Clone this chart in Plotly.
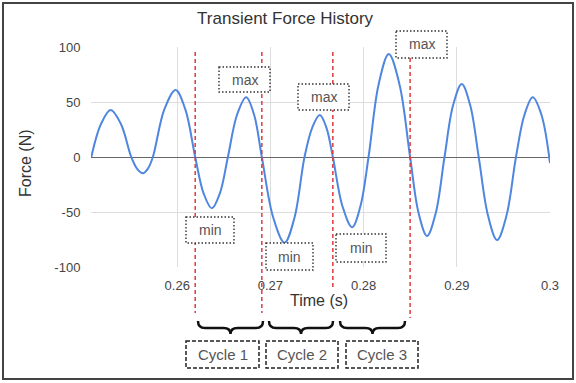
import plotly.graph_objects as go

# ---- data ----
time_s = [0.25078, 0.25182, 0.25286, 0.25396, 0.25507, 0.25568, 0.25632, 0.25686,
          0.25739, 0.25861, 0.25983, 0.26088, 0.26193, 0.26283, 0.26372, 0.26458,
          0.26544, 0.26642, 0.26740, 0.26825, 0.26908, 0.27030, 0.27152, 0.27259,
          0.27366, 0.27450, 0.27530, 0.27600, 0.27670, 0.27774, 0.27877, 0.27965,
          0.28053, 0.28161, 0.28270, 0.28385, 0.28499, 0.28590, 0.28681, 0.28774,
          0.28868, 0.28960, 0.29053, 0.29144, 0.29235, 0.29334, 0.29432, 0.29534,
          0.29635, 0.29726, 0.29815, 0.29908, 0.30000]
force_n = [0, 30, 42.7, 30, 0, -10.5, -14.8, -10.5,
           0, 43, 60.9, 43, 0, -33, -46.7, -33,
           0, 38.4, 54.3, 38.4, 0, -55, -77.9, -55,
           0, 27, 38.2, 27, 0, -45, -63.9, -45,
           0, 66, 93.6, 66, 0, -51, -71.8, -51,
           0, 47, 66.4, 47, 0, -53, -75.5, -53,
           0, 38.4, 54.3, 38.4, -5.5]
cycle_bounds = [0.26193, 0.26908, 0.27670, 0.28499]
cycle_labels = ["Cycle 1", "Cycle 2", "Cycle 3"]
x_tickvals = [0.26, 0.27, 0.28, 0.29, 0.30]
x_ticktext = ["0.26", "0.27", "0.28", "0.29", "0.3"]
y_tickvals = [-100, -50, 0, 50, 100]
y_ticktext = ["-100", "-50", "0", "50", "100"]

W, H = 576, 383
L, R, T, B = 91, 550, 47, 267


def px(x):
    return (x - L) / (R - L)


def py(y):
    return (B - y) / (B - T)


fig = go.Figure()
fig.add_trace(go.Scatter(x=time_s, y=force_n, mode="lines",
                         line=dict(color="#4f86e0", width=2, shape="spline", smoothing=1.0),
                         hoverinfo="skip", showlegend=False))

shapes = []
# outer frame
shapes.append(dict(type="rect", xref="paper", yref="paper", x0=px(3), x1=px(573), y0=py(3), y1=py(379),
                   line=dict(color="#444", width=2), fillcolor="rgba(0,0,0,0)", layer="above"))
# red dashed cycle boundary lines
line_tops = [52, 52, 52, 58]
line_bots = [313, 313, 288, 318]
for t, yt, yb in zip(cycle_bounds, line_tops, line_bots):
    shapes.append(dict(type="line", xref="x", yref="paper", x0=t, x1=t, y0=py(yt), y1=py(yb),
                       line=dict(color="#e03a3a", width=1.5, dash="4px,3px"), layer="above"))

annotations = []


def label_box(x0, y0, x1, y1, text, dash, color, size, width):
    shapes.append(dict(type="rect", xref="paper", yref="paper", x0=px(x0), x1=px(x1), y0=py(y0), y1=py(y1),
                       line=dict(color=color, width=width, dash=dash), fillcolor="white", layer="above"))
    annotations.append(dict(xref="paper", yref="paper", x=px((x0 + x1) / 2), y=py((y0 + y1) / 2),
                            text=text, showarrow=False, xanchor="center", yanchor="middle",
                            font=dict(size=size, color="#555", family="Arial")))


# max / min tags
tag_dash = "1.5px,2px"
label_box(219, 67, 270, 92, "max", tag_dash, "#333", 14, 1.4)
label_box(298, 84, 349, 110, "max", tag_dash, "#333", 14, 1.4)
label_box(396, 31, 447, 58, "max", tag_dash, "#333", 14, 1.4)
label_box(186, 217, 234, 243, "min", tag_dash, "#333", 14, 1.4)
label_box(266, 243, 313, 270, "min", tag_dash, "#333", 14, 1.4)
label_box(336, 234, 386, 262, "min", tag_dash, "#333", 14, 1.4)

# cycle boxes
cyc_boxes = [(186, 259), (266, 338), (346, 418)]
for (a, b), txt in zip(cyc_boxes, cycle_labels):
    label_box(a, 341, b, 368, txt, "4px,2px", "#222", 15, 1.5)

# curly braces
braces = [(198, 263), (269, 333), (340, 405)]
for a, b in braces:
    c = (a + b) / 2
    yt, ym, yb = 321, 328, 334
    pts = (f"M {px(a)},{py(yt)} Q {px(a)},{py(ym)} {px(a + 7)},{py(ym)} "
           f"L {px(c - 7)},{py(ym)} Q {px(c)},{py(ym)} {px(c)},{py(yb)} "
           f"Q {px(c)},{py(ym)} {px(c + 7)},{py(ym)} "
           f"L {px(b - 7)},{py(ym)} Q {px(b)},{py(ym)} {px(b)},{py(yt)}")
    shapes.append(dict(type="path", xref="paper", yref="paper", path=pts,
                       line=dict(color="#111", width=2.5), layer="above"))

# axis titles
annotations.append(dict(xref="paper", yref="paper", x=px(319), y=py(300), text="Time (s)",
                        showarrow=False, xanchor="center", yanchor="middle",
                        font=dict(size=16, color="#333", family="Arial")))
annotations.append(dict(xref="paper", yref="paper", x=px(25), y=py(163), text="Force (N)",
                        showarrow=False, xanchor="center", yanchor="middle", textangle=-90,
                        font=dict(size=16, color="#333", family="Arial")))

fig.update_layout(
    width=W, height=H,
    margin=dict(l=L, r=W - R, t=T, b=H - B, autoexpand=False),
    paper_bgcolor="white", plot_bgcolor="white",
    title=dict(text="Transient Force History", x=0.495, xref="container", y=1 - 18 / H,
               yref="container", xanchor="center", yanchor="middle",
               font=dict(size=17, color="#333", family="Arial")),
    shapes=shapes, annotations=annotations,
    xaxis=dict(range=[0.25075, 0.30], tickvals=x_tickvals, ticktext=x_ticktext,
               showgrid=True, gridcolor="#dddddd", gridwidth=1, zeroline=False,
               showline=False, ticks="outside", ticklen=6, tickcolor="rgba(0,0,0,0)",
               tickfont=dict(size=13, color="#444", family="Arial")),
    yaxis=dict(range=[-100, 100], tickvals=y_tickvals, ticktext=y_ticktext,
               showgrid=True, gridcolor="#dddddd", gridwidth=1,
               zeroline=True, zerolinecolor="#666", zerolinewidth=1,
               showline=False, ticks="outside", ticklen=7, tickcolor="rgba(0,0,0,0)",
               tickfont=dict(size=13, color="#444", family="Arial")),
)

fig.write_html("out.html", config={"displayModeBar": False},
               post_script="document.body.style.margin='0';")
